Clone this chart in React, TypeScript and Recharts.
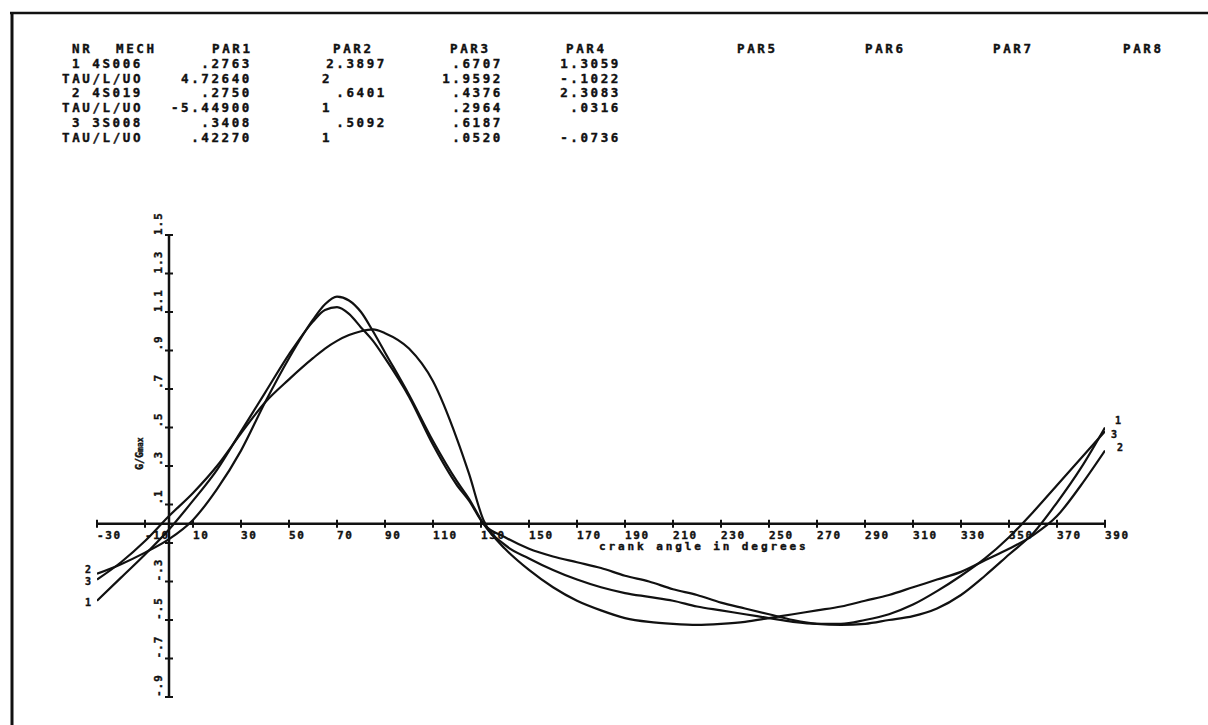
import React from 'react';
import { LineChart, Line, XAxis, YAxis, ReferenceLine, ReferenceDot } from 'recharts';

// crank angle (degrees) and normalised output G/Gmax for the three mechanisms
const angles = [-30, -20, -10, 0, 10, 20, 30, 40, 50, 60, 65, 70, 75, 80, 85, 90, 100, 110, 120, 125, 131, 140, 150, 160, 170, 180, 190, 200, 210, 220, 230, 240, 250, 260, 270, 280, 290, 300, 310, 320, 330, 340, 350, 360, 370, 380, 390];

const mech1 = [-0.4, -0.28, -0.16, -0.03, 0.12, 0.28, 0.48, 0.68, 0.88, 1.05, 1.11, 1.125, 1.09, 1.02, 0.95, 0.86, 0.66, 0.41, 0.2, 0.12, 0.0, -0.07, -0.13, -0.17, -0.2, -0.23, -0.27, -0.3, -0.34, -0.37, -0.41, -0.44, -0.47, -0.5, -0.52, -0.525, -0.52, -0.5, -0.48, -0.44, -0.37, -0.27, -0.16, -0.05, 0.11, 0.29, 0.5];

const mech2 = [-0.26, -0.21, -0.15, -0.08, 0.02, 0.18, 0.38, 0.63, 0.86, 1.06, 1.14, 1.18, 1.16, 1.1, 1.0, 0.89, 0.67, 0.43, 0.22, 0.13, 0.0, -0.13, -0.24, -0.33, -0.4, -0.45, -0.49, -0.51, -0.52, -0.525, -0.52, -0.51, -0.49, -0.47, -0.45, -0.43, -0.4, -0.37, -0.33, -0.29, -0.25, -0.19, -0.13, -0.06, 0.04, 0.2, 0.38];

const mech3 = [-0.29, -0.2, -0.09, 0.04, 0.16, 0.3, 0.47, 0.63, 0.75, 0.86, 0.91, 0.95, 0.98, 1.0, 1.01, 0.99, 0.91, 0.74, 0.44, 0.26, 0.02, -0.11, -0.18, -0.24, -0.29, -0.33, -0.36, -0.38, -0.4, -0.43, -0.45, -0.47, -0.49, -0.51, -0.52, -0.52, -0.5, -0.47, -0.42, -0.35, -0.27, -0.18, -0.07, 0.06, 0.2, 0.34, 0.48];

const xTicks = [-30, -10, 10, 30, 50, 70, 90, 110, 130, 150, 170, 190, 210, 230, 250, 270, 290, 310, 330, 350, 370, 390];
const xTickLabels = ['-30', '-10', '10', '30', '50', '70', '90', '110', '130', '150', '170', '190', '210', '230', '250', '270', '290', '310', '330', '350', '370', '390'];
const yTicks = [-0.9, -0.7, -0.5, -0.3, -0.1, 0.1, 0.3, 0.5, 0.7, 0.9, 1.1, 1.3, 1.5];
const yTickLabels = ['-.9', '-.7', '-.5', '-.3', '', '.1', '.3', '.5', '.7', '.9', '1.1', '1.3', '1.5'];

// parameter table printed above the plot
const tableHeader = ['NR', 'MECH', 'PAR1', 'PAR2', 'PAR3', 'PAR4', 'PAR5', 'PAR6', 'PAR7', 'PAR8'];
const rowNames = ['1 4S006', 'TAU/L/UO', '2 4S019', 'TAU/L/UO', '3 3S008', 'TAU/L/UO'];
const par1 = ['.2763', '4.72640', '.2750', '-5.44900', '.3408', '.42270'];
const par2 = ['2.3897', '2', '.6401', '1', '.5092', '1'];
const par3 = ['.6707', '1.9592', '.4376', '.2964', '.6187', '.0520'];
const par4 = ['1.3059', '-.1022', '2.3083', '.0316', '', '-.0736'];

const curveNames = ['1', '2', '3'];

const data = angles.map((a, i) => ({ angle: a, m1: mech1[i], m2: mech2[i], m3: mech3[i] }));

const FONT = '"DejaVu Sans Mono", "Liberation Mono", monospace';
const INK = '#111';

const headerX = [72, 116, 212, 333, 450, 566, 737, 865, 993, 1123];
const valueRight = [252, 387, 503, 621];

// plotter-style lettering: bold mono with a thin outline to thicken strokes
const inkText = { fontFamily: FONT, fontWeight: 'bold' as const, fill: INK, stroke: INK, strokeWidth: 0.4 };

function xTickShape(label: string) {
  return (p: any) => (
    <g>
      <line x1={p.cx} x2={p.cx} y1={p.cy - 4} y2={p.cy + 4} stroke={INK} strokeWidth={2} />
      <text x={p.cx} y={p.cy + 15} fontSize={11} letterSpacing={1.6} {...inkText}>
        {label}
      </text>
    </g>
  );
}

function yTickShape(label: string) {
  return (p: any) => (
    <g>
      <line x1={p.cx - 4} x2={p.cx + 4} y1={p.cy} y2={p.cy} stroke={INK} strokeWidth={2} />
      {label && (
        <text
          x={p.cx - 7}
          y={p.cy}
          transform={`rotate(-90 ${p.cx - 7} ${p.cy})`}
          fontSize={11}
          letterSpacing={1}
          {...inkText}
        >
          {label}
        </text>
      )}
    </g>
  );
}

function endLabel(label: string, dx: number, dy: number, anchor: string) {
  return (p: any) => (
    <text x={p.cx + dx} y={p.cy + dy} textAnchor={anchor} fontSize={10} {...inkText}>
      {label}
    </text>
  );
}

const series = [mech1, mech2, mech3];
const leftOffsets = [[-6, 5], [-6, -1], [-6, 5]];
const rightOffsets = [[10, -4], [12, 0], [6, 7]];

export default function App() {
  const last = angles.length - 1;
  const textStyle = { ...inkText, fontSize: 12.5, letterSpacing: 2.6 };
  const rowGap = 14.8;
  const top = 53;
  return (
    <div style={{ position: 'absolute', left: 0, top: 0, width: 1208, height: 725, background: '#fff' }}>
      <LineChart
        width={1208}
        height={725}
        data={data}
        margin={{ top: 235, right: 103, bottom: 28, left: 97 }}
      >
        <XAxis dataKey="angle" type="number" domain={[-30, 390]} hide allowDataOverflow />
        <YAxis type="number" domain={[-0.9, 1.5]} hide allowDataOverflow />
        <ReferenceLine y={0} stroke={INK} strokeWidth={2.5} />
        <ReferenceLine x={0} stroke={INK} strokeWidth={2.5} />
        {xTicks.map((t, i) => (
          <ReferenceDot key={`xt${t}`} x={t} y={0} r={0} ifOverflow="visible" shape={xTickShape(xTickLabels[i])} />
        ))}
        {yTicks.map((t, i) => (
          <ReferenceDot key={`yt${t}`} x={0} y={t} r={0} ifOverflow="visible" shape={yTickShape(yTickLabels[i])} />
        ))}
        <Line type="monotone" dataKey="m1" stroke={INK} strokeWidth={2.2} dot={false} isAnimationActive={false} />
        <Line type="monotone" dataKey="m2" stroke={INK} strokeWidth={2.2} dot={false} isAnimationActive={false} />
        <Line type="monotone" dataKey="m3" stroke={INK} strokeWidth={2.2} dot={false} isAnimationActive={false} />
        {series.map((s, i) => (
          <ReferenceDot
            key={`l${i}`}
            x={angles[0]}
            y={s[0]}
            r={0}
            ifOverflow="visible"
            shape={endLabel(curveNames[i], leftOffsets[i][0], leftOffsets[i][1], 'end')}
          />
        ))}
        {series.map((s, i) => (
          <ReferenceDot
            key={`r${i}`}
            x={angles[last]}
            y={s[last]}
            r={0}
            ifOverflow="visible"
            shape={endLabel(curveNames[i], rightOffsets[i][0], rightOffsets[i][1], 'start')}
          />
        ))}
      </LineChart>
      <svg width={1208} height={725} style={{ position: 'absolute', left: 0, top: 0, pointerEvents: 'none' }}>
        {/* scanned page frame */}
        <line x1={10} y1={13} x2={1208} y2={13} stroke={INK} strokeWidth={2.5} />
        <line x1={12} y1={12} x2={12} y2={725} stroke={INK} strokeWidth={3} />
        {/* parameter table */}
        {tableHeader.map((h, i) => (
          <text key={h} x={headerX[i]} y={top} {...textStyle}>{h}</text>
        ))}
        {rowNames.map((name, r) => {
          const y = top + (r + 1) * rowGap;
          const isTau = name.startsWith('TAU');
          return (
            <g key={`row${r}`}>
              <text x={isTau ? 62 : 72} y={y} style={{ whiteSpace: 'pre' }} {...textStyle}>{name}</text>
              <text x={valueRight[0]} y={y} textAnchor="end" {...textStyle}>{par1[r]}</text>
              {par2[r].includes('.') ? (
                <text x={valueRight[1]} y={y} textAnchor="end" {...textStyle}>{par2[r]}</text>
              ) : (
                <text x={322} y={y} {...textStyle}>{par2[r]}</text>
              )}
              <text x={valueRight[2]} y={y} textAnchor="end" {...textStyle}>{par3[r]}</text>
              <text x={valueRight[3]} y={y} textAnchor="end" {...textStyle}>{par4[r]}</text>
            </g>
          );
        })}
        {/* axis titles */}
        <text x={599} y={550} fontSize={11} letterSpacing={2.9} {...inkText}>
          crank angle in degrees
        </text>
        <text x={143} y={470} transform="rotate(-90 143 470)" fontSize={10} {...inkText}>
          G/G<tspan fontSize={8}>max</tspan>
        </text>
      </svg>
    </div>
  );
}
